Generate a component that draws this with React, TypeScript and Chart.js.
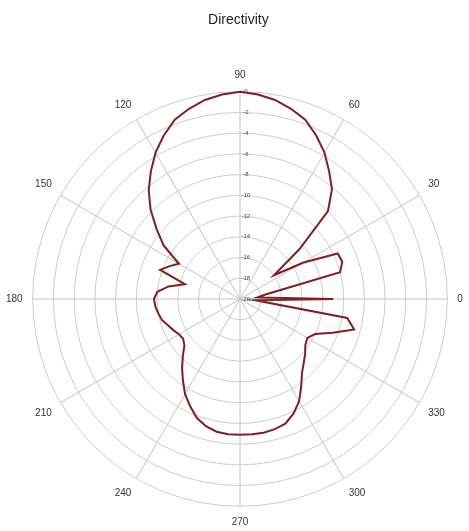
import React, { useEffect, useRef } from "react";
import { Chart, registerables } from "chart.js";

Chart.register(...registerables);

// Angles (degrees, counter-clockwise from 0 = right) at which the pattern is sampled
const angleDeg: number[] = [
  0, 5, 10, 15, 20, 25, 30, 35, 40, 45, 50, 55, 60, 65, 70, 75, 80, 85,
  90, 95, 100, 105, 110, 115, 120, 125, 130, 135, 140, 145, 150, 155, 160, 165, 170, 175,
  180, 185, 190, 195, 200, 205, 210, 215, 220, 225, 230, 235, 240, 245, 250, 255, 260, 265,
  270, 275, 280, 285, 290, 295, 300, 305, 310, 315, 320, 325, 330, 335, 340, 345, 350, 355,
];

// Directivity in dB at each angle above
const directivityDb: number[] = [
  -11, -18.3, -17.5, -10, -9.5, -9.6, -13, -16, -12.5, -8, -6.2, -5.0, -3.7, -2.6, -1.6, -1.0, -0.5, -0.2,
  0, -0.2, -0.5, -1.0, -1.6, -2.6, -3.7, -5.0, -6.3, -7.8, -9.5, -11, -13.2, -12.5, -11.8, -14.5, -13, -12,
  -11.7, -11.8, -12, -12.2, -12.6, -12.9, -13.2, -13.3, -13, -12.2, -11.3, -10.4, -9.4, -8.6, -7.8, -7.3, -7.0, -6.9,
  -6.9, -6.9, -6.9, -7.0, -7.2, -7.8, -8.6, -9.7, -10.7, -11.3, -11.8, -12.3, -12.5, -12, -10.5, -8.6, -9.5, -18.5,
];

// Labelled directions on the angular axis
const angleTickLabels: number[] = [0, 30, 60, 90, 120, 150, 180, 210, 240, 270, 300, 330];

// Radial axis range (dB)
const radialMin = -20;
const radialMax = 0;
const radialStep = 2;

const titleText = "Directivity";

export default function App() {
  const canvasRef = useRef<HTMLCanvasElement | null>(null);

  useEffect(() => {
    if (!canvasRef.current) return;
    // Radar draws index 0 at the top and goes clockwise: start at 90 and decrease.
    const n = angleDeg.length;
    const step = 360 / n;
    const orderedAngles: number[] = [];
    const orderedValues: number[] = [];
    for (let i = 0; i < n; i++) {
      const a = (((90 - i * step) % 360) + 360) % 360;
      orderedAngles.push(a);
      const idx = angleDeg.indexOf(a);
      orderedValues.push(directivityDb[idx]);
    }
    const labels = orderedAngles.map((a) => String(a));

    const chart = new Chart(canvasRef.current, {
      type: "radar",
      data: {
        labels,
        datasets: [
          {
            label: "Directivity",
            data: orderedValues,
            borderColor: "#7f2020",
            backgroundColor: "rgba(0,0,0,0)",
            borderWidth: 2,
            pointRadius: 0,
            pointHoverRadius: 0,
            fill: false,
            tension: 0,
          },
        ],
      },
      options: {
        responsive: false,
        animation: false,
        plugins: {
          legend: { display: false },
          tooltip: { enabled: false },
          title: {
            display: true,
            text: "  " + titleText,
            color: "#222",
            font: { family: "'Liberation Sans', Arial, sans-serif", size: 14, weight: "normal" },
            padding: { top: 12, bottom: 8 },
          },
        },
        scales: {
          r: {
            min: radialMin,
            max: radialMax,
            startAngle: 0,
            ticks: {
              stepSize: radialStep,
              color: "#444",
              font: { family: "'Liberation Sans', Arial, sans-serif", size: 6 },
              showLabelBackdrop: false,
              callback: (v: any) => "       " + v,
              z: 0,
            },
            grid: {
              circular: true,
              color: "#cccccc",
              lineWidth: 1,
            },
            angleLines: {
              color: "#c2c2c2",
              lineWidth: (ctx: any) =>
                angleTickLabels.includes(Number(labels[ctx.index])) ? 1 : 0,
            },
            pointLabels: {
              color: "#333",
              padding: 5,
              font: { family: "'Liberation Sans', Arial, sans-serif", size: 10 },
              callback: (label: string) =>
                angleTickLabels.includes(Number(label)) ? label : "",
            },
          },
        },
      },
    });
    return () => chart.destroy();
  }, []);

  return (
    <div
      style={{
        position: "absolute",
        left: 0,
        top: 0,
        width: 469,
        height: 531,
        overflow: "hidden",
        background: "#fff",
      }}
    >
      <canvas ref={canvasRef} width={469} height={563} style={{ width: 469, height: 563 }} />
    </div>
  );
}
